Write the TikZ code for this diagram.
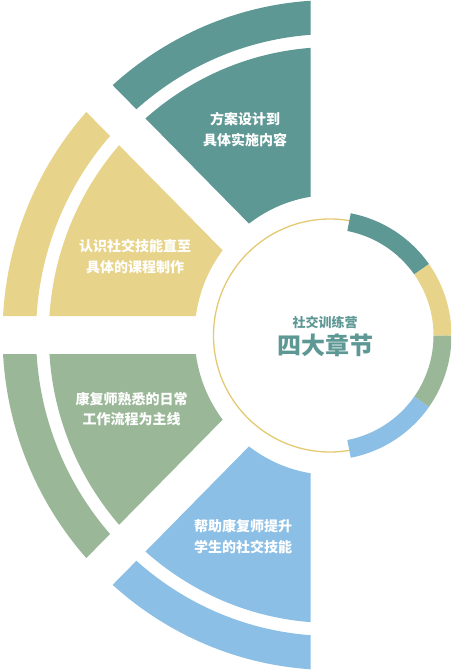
\documentclass[tikz,border=0pt]{standalone}
\usepackage{fontspec}
\newfontfamily\cjk{Noto Sans CJK SC}
\definecolor{cteal}{HTML}{5E9894}
\definecolor{cyel}{HTML}{E7D48A}
\definecolor{cgreen}{HTML}{9AB898}
\definecolor{cblue}{HTML}{8BBFE6}
\definecolor{cline}{HTML}{E3CA72}
\tikzset{
  wlabel/.style={text=white, font=\cjk\bfseries\fontsize{14}{20.5}\selectfont, align=center, inner sep=0pt},
}
\begin{document}
\begin{tikzpicture}[x=1pt,y=1pt]
\useasboundingbox (0,0) rectangle (451,-672);
\clip (0,0) rectangle (451,-672);
% thin circle
\draw[cline, line width=1.3] (330,-335.5) circle[radius=116.5];
% right ring segments
\begin{scope}[shift={(327,-335.5)}]
  \fill[cteal] (79:124.5) arc[start angle=79,end angle=35,radius=124.5] -- (35:106.5) arc[start angle=35,end angle=79,radius=106.5] -- cycle;
  \fill[cyel] (35:124.5) arc[start angle=35,end angle=0,radius=124.5] -- (0:106.5) arc[start angle=0,end angle=35,radius=106.5] -- cycle;
  \fill[cgreen] (0:124.5) arc[start angle=0,end angle=-35,radius=124.5] -- (-35:106.5) arc[start angle=-35,end angle=0,radius=106.5] -- cycle;
  \fill[cblue] (-35:124.5) arc[start angle=-35,end angle=-79,radius=124.5] -- (-79:106.5) arc[start angle=-79,end angle=-35,radius=106.5] -- cycle;
\end{scope}
% left sectors
\begin{scope}[shift={(332.5,-335)}, xscale=0.985]
  \begin{scope}
    \clip (-22.3,48.87) -- (-22.3,626.87) -- (-600,626.87) -- cycle;
    \fill[cteal, even odd rule] (0,0) circle[radius=288] (0,0) circle[radius=140];
    \fill[cteal, even odd rule] (0,0) circle[radius=335] (0,0) circle[radius=301];
  \end{scope}
  \begin{scope}
    \clip (-45.87,19) -- (-600,19) -- (-600,573.13) -- cycle;
    \fill[cyel, even odd rule] (0,0) circle[radius=288] (0,0) circle[radius=140];
    \fill[cyel, even odd rule] (0,0) circle[radius=335] (0,0) circle[radius=301];
  \end{scope}
  \begin{scope}
    \clip (-45.87,-19) -- (-600,-19) -- (-600,-573.13) -- cycle;
    \fill[cgreen, even odd rule] (0,0) circle[radius=288] (0,0) circle[radius=140];
    \fill[cgreen, even odd rule] (0,0) circle[radius=335] (0,0) circle[radius=301];
  \end{scope}
  \begin{scope}
    \clip (-22.3,-48.87) -- (-22.3,-626.87) -- (-600,-626.87) -- cycle;
    \fill[cblue, even odd rule] (0,0) circle[radius=288] (0,0) circle[radius=140];
    \fill[cblue, even odd rule] (0,0) circle[radius=335] (0,0) circle[radius=301];
  \end{scope}
\end{scope}
% labels
\node[wlabel] (t1) at (245,-129.5) {方案设计到\\具体实施内容};
\node[wlabel] (t2) at (135,-256.7) {认识社交技能直至\\具体的课程制作};
\node[wlabel] (t3) at (131.7,-409) {康复师熟悉的日常\\工作流程为主线};
\node[wlabel] (t4) at (243,-536.7) {帮助康复师提升\\学生的社交技能};
\node[text=cteal, font=\cjk\bfseries\fontsize{13}{15}\selectfont, inner sep=0pt] (c1) at (325,-322) {社交训练营};
\node[text=cteal, font=\cjk\bfseries\fontsize{24}{28}\selectfont, inner sep=0pt] (c2) at (325.5,-345.7) {四大章节};
\end{tikzpicture}
\end{document}
